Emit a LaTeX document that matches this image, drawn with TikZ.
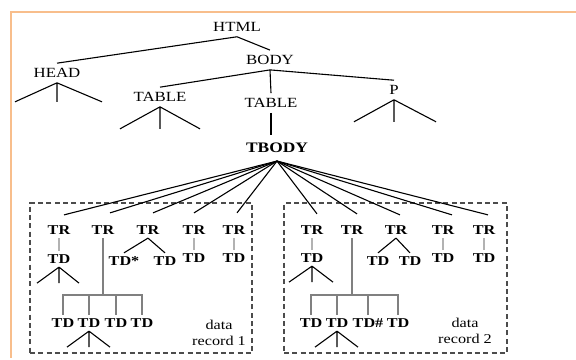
\documentclass[tikz,border=0pt]{standalone}
\usepackage{fontspec}
\setmainfont{Liberation Serif}[FakeStretch=1.2]
\definecolor{edging}{RGB}{248,190,140}

\begin{document}
\begin{tikzpicture}[
  x=1pt, y=-1pt,
  tag/.style={font=\fontsize{14}{16}\selectfont, inner xsep=1pt, inner ysep=5pt},
  root/.style={font=\fontsize{14.5}{16}\selectfont\bfseries, inner xsep=1pt, inner ysep=8pt},
  cell/.style={font=\fontsize{13.5}{15}\selectfont\bfseries, inner xsep=1pt, inner ysep=3.5pt},
  note/.style={font=\fontsize{13.5}{16.5}\selectfont, align=center, inner sep=0pt},
  record/.style={draw=black!70, line width=1.2pt, dash pattern=on 5pt off 3.3pt, minimum width=222pt, minimum height=150pt, inner sep=0pt},
  link/.style={line width=1.1pt},
  stem/.style={line width=1.3pt, draw=black!50},
  twig/.style={line width=1.3pt, draw=black!30}
]
\useasboundingbox (0,0) rectangle (576,359);
\draw[edging, line width=2.5pt] (576,12) -- (11,12) -- (11,358);

% Upper part of the tree
\node[tag] (html) at (237,27) {HTML};
\node[tag] (body) at (270,60) {BODY};
\node[tag] (head) at (57,73) {HEAD};
\node[tag] (table1) at (160,97) {TABLE};
\node[tag] (table2) at (271,103) {TABLE};
\node[tag] (p) at (394,90) {P};
\node[root] (tbody) at (277,148) {TBODY};

\draw[link] (html.south) -- (head.north);
\draw[link] (html.south) -- (body.north);
\draw[link] (body.south) -- (table1.north);
\draw[link] (body.south) -- (table2.north);
\draw[link] (body.south) -- (p.north);
\draw[link] (table2.south) -- (table2.south |- tbody.north);

% Collapsed subtrees
\draw[link] (head.south) -- ++(-42,19) (head.south) -- ++(0,19) (head.south) -- ++(45,19);
\draw[link] (table1.south) -- ++(-40,22) (table1.south) -- ++(0,22) (table1.south) -- ++(40,22);
\draw[link] (p.south) -- ++(-40,22) (p.south) -- ++(0,22) (p.south) -- ++(42,22);

% Data records
\node[record] (rec1) at (141,278) {};
\node[record, minimum width=223pt] (rec2) at (395.5,278) {};
\node[note] (note1) at (219,333) {data\\record 1};
\node[note] (note2) at (465,331) {data\\record 2};

% Record 1
\node[cell] (r1tr1) at (59,230) {TR};
\node[cell] (r1tr2) at (103,230) {TR};
\node[cell] (r1tr3) at (148,230) {TR};
\node[cell] (r1tr4) at (194,230) {TR};
\node[cell] (r1tr5) at (234,230) {TR};
\node[cell] (r1td1) at (59,259) {TD};
\node[cell] (r1td3a) at (124,261) {TD*};
\node[cell] (r1td3b) at (165,261) {TD};
\node[cell] (r1td4) at (194,258) {TD};
\node[cell] (r1td5) at (234,258) {TD};
\node[cell] (r1row1) at (63,323) {TD};
\node[cell] (r1row2) at (89,323) {TD};
\node[cell] (r1row3) at (116,323) {TD};
\node[cell] (r1row4) at (142,323) {TD};
\coordinate (bar1) at (r1tr2.south |- 0,295);

% Record 2
\node[cell] (r2tr1) at (312,230) {TR};
\node[cell] (r2tr2) at (352,230) {TR};
\node[cell] (r2tr3) at (396,230) {TR};
\node[cell] (r2tr4) at (443,230) {TR};
\node[cell] (r2tr5) at (484,230) {TR};
\node[cell] (r2td1) at (312,258) {TD};
\node[cell] (r2td3a) at (378,261) {TD};
\node[cell] (r2td3b) at (410,261) {TD};
\node[cell] (r2td4) at (443,258) {TD};
\node[cell] (r2td5) at (484,258) {TD};
\node[cell] (r2row1) at (311,323) {TD};
\node[cell] (r2row2) at (337,323) {TD};
\node[cell] (r2row3) at (368,323) {TD\#};
\node[cell] (r2row4) at (398,323) {TD};
\coordinate (bar2) at (r2tr2.south |- 0,295);

% TBODY fan
\draw[link] (tbody.south) -- ([shift={(5,-7)}]r1tr1.north);
\draw[link] (tbody.south) -- ([shift={(7,-9)}]r1tr2.north);
\draw[link] (tbody.south) -- ([shift={(5,-9)}]r1tr3.north);
\draw[link] (tbody.south) -- ([shift={(0,-9)}]r1tr4.north);
\draw[link] (tbody.south) -- ([shift={(3,-9)}]r1tr5.north);
\draw[link] (tbody.south) -- ([shift={(5,-8)}]r2tr1.north);
\draw[link] (tbody.south) -- ([shift={(5,-8)}]r2tr2.north);
\draw[link] (tbody.south) -- ([shift={(4,-7)}]r2tr3.north);
\draw[link] (tbody.south) -- ([shift={(9,-7)}]r2tr4.north);
\draw[link] (tbody.south) -- ([shift={(4,-7)}]r2tr5.north);

% Record 1 branches
\draw[twig] (r1tr1.south) -- (r1td1.north);
\draw[twig] (r1tr4.south) -- (r1td4.north);
\draw[twig] (r1tr5.south) -- (r1td5.north);
\draw[link] (r1tr3.south) -- (r1td3a.north);
\draw[link] (r1tr3.south) -- (r1td3b.north);
\draw[stem] (r1tr2.south) -- (bar1);
\draw[stem] (r1row1.north) |- (bar1) -| (r1row4.north);
\draw[stem] (r1row2.north) -- (r1row2.north |- bar1);
\draw[stem] (r1row3.north) -- (r1row3.north |- bar1);
\draw[link] (r1td1.south) -- ++(-22,16) (r1td1.south) -- ++(0,16) (r1td1.south) -- ++(20,16);
\draw[link] (r1row2.south) -- ++(-22,16) (r1row2.south) -- ++(0,16) (r1row2.south) -- ++(21,16);

% Record 2 branches
\draw[twig] (r2tr1.south) -- (r2td1.north);
\draw[twig] (r2tr4.south) -- (r2td4.north);
\draw[twig] (r2tr5.south) -- (r2td5.north);
\draw[link] (r2tr3.south) -- (r2td3a.north);
\draw[link] (r2tr3.south) -- (r2td3b.north);
\draw[stem] (r2tr2.south) -- (bar2);
\draw[stem] (r2row1.north) |- (bar2) -| (r2row4.north);
\draw[stem] (r2row2.north) -- (r2row2.north |- bar2);
\draw[stem] (r2row3.north) -- (r2row3.north |- bar2);
\draw[link] (r2td1.south) -- ++(-23,16) (r2td1.south) -- ++(0,16) (r2td1.south) -- ++(21,16);
\draw[link] (r2row2.south) -- ++(-22,16) (r2row2.south) -- ++(0,16) (r2row2.south) -- ++(21,16);

\end{tikzpicture}
\end{document}
